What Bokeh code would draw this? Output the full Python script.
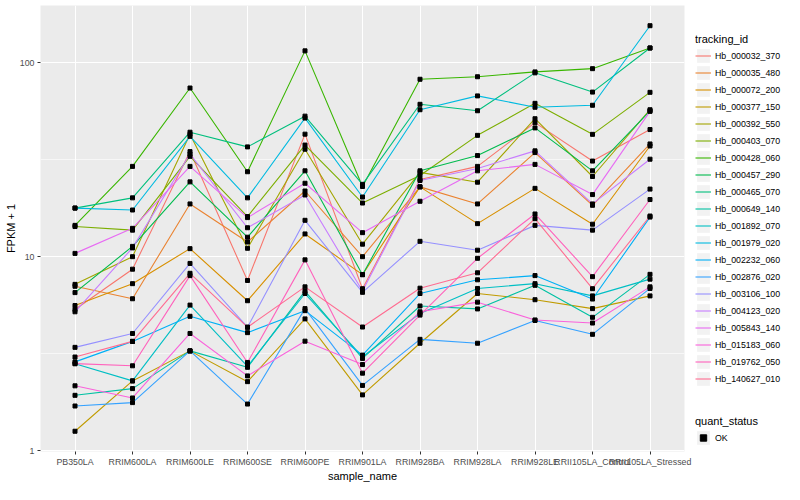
from bokeh.plotting import figure
from bokeh.layouts import row
from bokeh.models import FactorRange, Range1d, FixedTicker, Legend, LegendItem, BasicTickFormatter
from bokeh.embed import file_html
from bokeh.resources import INLINE

samples = ["PB350LA", "RRIM600LA", "RRIM600LE", "RRIM600SE", "RRIM600PE", "RRIM901LA",
           "RRIM928BA", "RRIM928LA", "RRIM928LE", "RRII105LA_Control", "RRII105LA_Stressed"]

tracking_ids = ["Hb_000032_370", "Hb_000035_480", "Hb_000072_200", "Hb_000377_150", "Hb_000392_550",
                "Hb_000403_070", "Hb_000428_060", "Hb_000457_290", "Hb_000465_070", "Hb_000649_140",
                "Hb_001892_070", "Hb_001979_020", "Hb_002232_060", "Hb_002876_020", "Hb_003106_100",
                "Hb_004123_020", "Hb_005843_140", "Hb_015183_060", "Hb_019762_050", "Hb_140627_010"]

v01 = [5.34, 8.62, 34.8, 7.54, 42.8, 6.84, 25.0, 29.2, 49.1, 31.1, 45.2]
v02 = [7.04, 6.07, 18.7, 11.9, 21.8, 10.0, 22.9, 18.7, 34.4, 18.4, 38.1]
v03 = [5.60, 7.26, 11.0, 5.93, 13.1, 8.08, 22.9, 14.8, 22.5, 14.7, 37.2]
v04 = [1.26, 2.29, 3.27, 2.27, 4.78, 1.94, 3.58, 6.46, 6.00, 5.40, 6.28]
v05 = [7.20, 10.0, 42.7, 11.05, 35.8, 11.6, 27.2, 24.2, 51.4, 25.9, 57.2]
v06 = [14.3, 13.7, 32.9, 16.1, 37.6, 18.9, 26.2, 42.2, 61.7, 42.7, 70.3]
v07 = [14.5, 29.2, 74.0, 27.4, 115.0, 23.0, 82.1, 84.6, 89.6, 93.1, 119.0]
v08 = [6.53, 11.3, 24.3, 12.6, 27.7, 8.08, 27.7, 33.2, 46.1, 27.7, 56.5]
v09 = [17.8, 20.1, 43.8, 36.8, 53.0, 23.6, 61.0, 56.5, 88.6, 70.5, 119.0]
v10 = [1.93, 2.09, 3.27, 2.69, 6.65, 2.99, 5.57, 5.38, 7.12, 4.87, 8.11]
v11 = [2.81, 2.29, 5.63, 2.72, 6.46, 3.05, 5.10, 6.86, 7.26, 6.28, 7.66]
v12 = [17.8, 17.4, 41.7, 20.1, 51.8, 20.3, 57.2, 67.4, 58.9, 60.3, 155.0]
v13 = [2.87, 3.66, 4.93, 4.06, 5.27, 3.11, 6.46, 7.60, 7.99, 6.05, 16.0]
v14 = [1.70, 1.77, 3.27, 1.74, 5.40, 2.17, 3.75, 3.58, 4.69, 3.98, 6.86]
v15 = [3.41, 4.02, 9.23, 4.33, 15.4, 6.55, 12.0, 10.8, 14.5, 13.7, 22.3]
v16 = [5.20, 11.1, 33.8, 14.1, 20.8, 6.65, 24.7, 28.5, 35.1, 18.7, 31.8]
v17 = [10.4, 14.0, 29.2, 15.9, 23.9, 13.3, 19.3, 27.7, 29.9, 20.9, 56.1]
v18 = [2.16, 1.87, 4.02, 2.43, 3.67, 2.78, 5.20, 5.83, 4.72, 4.55, 6.99]
v19 = [2.81, 2.74, 7.99, 2.85, 9.63, 2.51, 5.00, 9.81, 16.6, 7.89, 19.7]
v20 = [3.04, 3.66, 8.21, 4.33, 6.99, 4.34, 6.88, 8.26, 15.7, 6.84, 16.2]

series_values = [v01, v02, v03, v04, v05, v06, v07, v08, v09, v10,
                 v11, v12, v13, v14, v15, v16, v17, v18, v19, v20]

palette = ["#F8766D", "#EA8331", "#D89000", "#C09B00", "#A3A500", "#7CAE00", "#39B600",
           "#00BB4E", "#00BF7D", "#00C1A3", "#00BFC4", "#00BAE0", "#00B0F6", "#35A2FF",
           "#9590FF", "#C77CFF", "#E76BF3", "#FA62DB", "#FF62BC", "#FF6C91"]

status_labels = ["OK"]
y_ticks = [1, 10, 100]
FONT = "Liberation Sans"

# ---------------- main panel ----------------
p = figure(width=695, height=484,
           x_range=FactorRange(factors=samples, range_padding=0.2 / 11, range_padding_units="percent"),
           y_range=Range1d(10 ** -0.004, 10 ** 2.2945), y_axis_type="log",
           output_backend="svg", toolbar_location=None,
           min_border_left=40, min_border_right=11, min_border_top=5, min_border_bottom=20,
           background_fill_color="#EBEBEB", border_fill_color="white", outline_line_color=None)

p.xgrid.grid_line_color = "white"
p.xgrid.grid_line_width = 1.1
p.ygrid.grid_line_color = "white"
p.ygrid.grid_line_width = 1.1
p.ygrid.minor_grid_line_color = "white"
p.ygrid.minor_grid_line_width = 0.6
p.yaxis.ticker = FixedTicker(ticks=y_ticks, minor_ticks=[10 ** 0.5, 10 ** 1.5])
p.yaxis.formatter = BasicTickFormatter()

for ax in (p.xaxis[0], p.yaxis[0]):
    ax.axis_line_color = None
    ax.major_tick_line_color = "#333333"
    ax.major_tick_out = 3
    ax.major_tick_in = 0
    ax.minor_tick_line_color = None
    ax.major_label_text_color = "#4D4D4D"
    ax.major_label_text_font = FONT
    ax.major_label_text_font_size = "8.8px"
    ax.major_label_standoff = 2
    ax.axis_label_text_font = FONT
    ax.axis_label_text_font_size = "11px"
    ax.axis_label_text_font_style = "normal"
    ax.axis_label_text_color = "black"
    ax.axis_label_standoff = 0

p.xaxis.axis_label = "sample_name"
p.yaxis.axis_label = "FPKM + 1"

for vals, col in zip(series_values, palette):
    p.line(x=samples, y=vals, line_color=col, line_width=1.1)

all_x = [s for vals in series_values for s in samples]
all_y = [v for vals in series_values for v in vals]
p.scatter(x=all_x, y=all_y, marker="square", size=4, color="black")

# ---------------- legend panel ----------------
q = figure(width=89, height=484, x_range=Range1d(0, 1), y_range=Range1d(0, 1),
           output_backend="svg", toolbar_location=None,
           x_axis_location=None, y_axis_location=None,
           min_border_left=0, min_border_right=0, min_border_top=0, min_border_bottom=0,
           background_fill_color="white", border_fill_color="white", outline_line_color=None)
q.xgrid.visible = False
q.ygrid.visible = False

# key renderers live outside the visible range; they only feed the legend swatches
off = [5, 6]
key_bg = q.quad(left=[off[0]], right=[off[1]], top=[off[1]], bottom=[off[0]],
                fill_color="#F2F2F2", line_color=None)

items = []
for tid, col in zip(tracking_ids, palette):
    r = q.line(x=off, y=off, line_color=col, line_width=1.1)
    items.append(LegendItem(label=tid, renderers=[key_bg, r]))

ok_r = q.scatter(x=off, y=off, marker="square", size=4, color="black")

legend_style = dict(glyph_width=16, glyph_height=17, label_height=17, spacing=0,
                    padding=2, margin=0, label_standoff=4,
                    label_text_font=FONT, label_text_font_size="8.8px", label_text_color="black",
                    title_text_font=FONT, title_text_font_size="11px", title_text_font_style="normal",
                    title_text_color="black", title_standoff=2,
                    border_line_color=None, background_fill_alpha=0)

leg1 = Legend(items=items, title="tracking_id", location=(0, 64), **legend_style)
q.add_layout(leg1)

leg2 = Legend(items=[LegendItem(label=status_labels[0], renderers=[key_bg, ok_r])],
              title="quant_status", location=(0, 5), **legend_style)
q.add_layout(leg2)

layout = row(p, q)
open("out.html", "w").write(file_html(layout, INLINE))
